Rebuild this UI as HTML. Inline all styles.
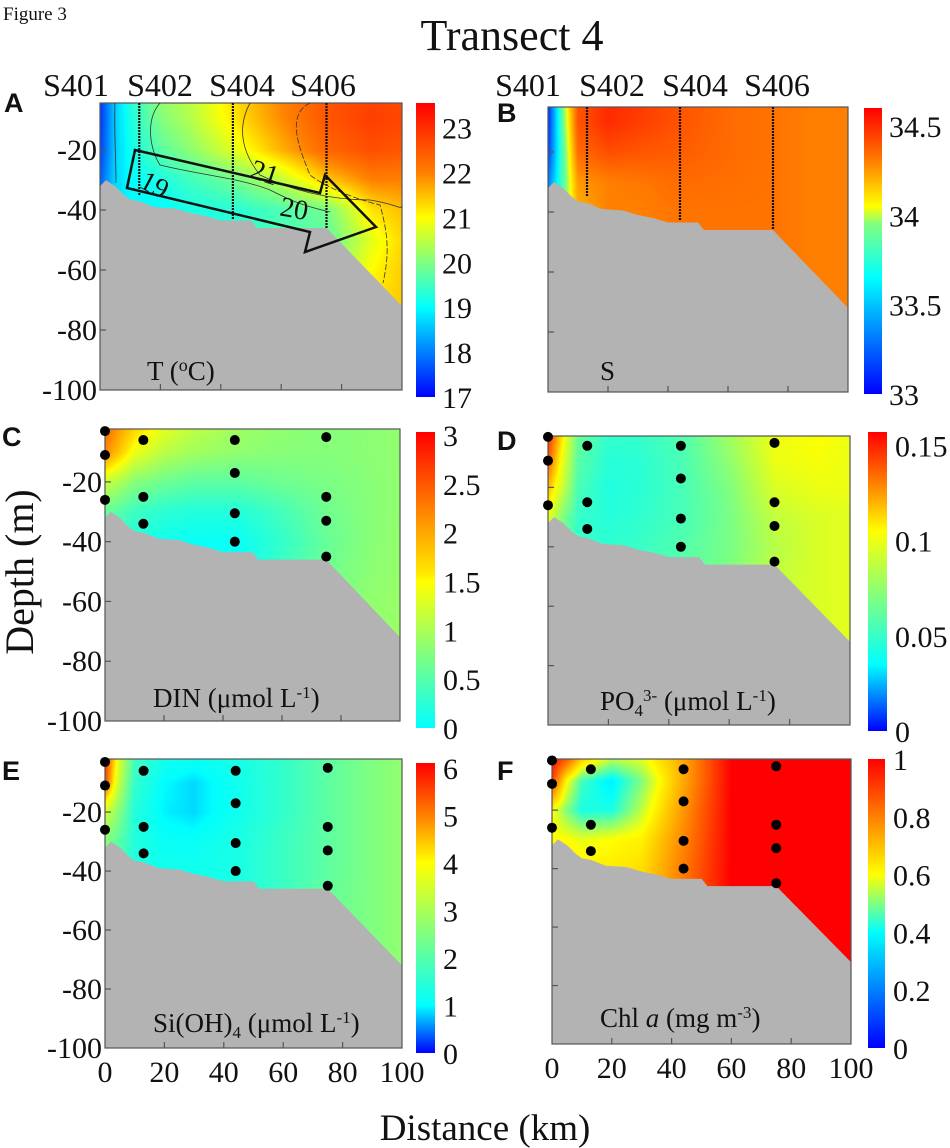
<!DOCTYPE html>
<html><head><meta charset="utf-8">
<style>
html,body{margin:0;padding:0;background:#fff;}
#wrap{position:relative;width:950px;height:1148px;overflow:hidden;font-family:"Liberation Serif",serif;}
canvas{position:absolute;}
svg{position:absolute;left:0;top:0;}
</style></head>
<body>
<div id="wrap">
<svg id="svg" width="950" height="1148"></svg>
</div>
<script>
// ---------- data ----------
const gridDist=[0,5,10,20,30,45,60,75,90,100];
const gridDepth=[0,10,20,30,40,50,60,70,80];
const tempValues=[
[17.4,17.4,17.5,17.7,17.8,17.8,17.8,17.8,17.8],
[18.6,18.6,18.6,18.7,18.8,18.8,18.8,18.8,18.8],
[19.3,19.2,19.1,19.0,19.0,19.0,19.0,19.0,19.0],
[20.2,20.0,19.7,19.2,19.0,19.0,19.0,19.0,19.0],
[20.5,20.4,20.1,19.5,19.2,19.2,19.2,19.2,19.2],
[21.3,21.2,20.8,19.9,19.3,19.3,19.3,19.3,19.3],
[22.0,21.9,21.6,20.5,19.6,19.6,19.6,19.6,19.6],
[22.5,22.5,22.3,21.4,19.9,19.7,20.0,20.4,20.5],
[22.7,22.8,22.6,22.0,21.2,20.8,21.0,21.2,21.2],
[22.6,22.7,22.5,22.0,21.5,21.3,21.4,21.4,21.4]];
const salValues=[
[33.1,33.1,33.15,33.3,33.4,33.4,33.4,33.4,33.4],
[33.95,33.9,33.85,33.85,33.9,33.9,33.9,33.9,33.9],
[34.4,34.4,34.35,34.25,34.2,34.2,34.2,34.2,34.2],
[34.5,34.5,34.42,34.3,34.3,34.3,34.3,34.3,34.3],
[34.47,34.46,34.4,34.32,34.3,34.3,34.3,34.3,34.3],
[34.4,34.4,34.38,34.35,34.33,34.33,34.33,34.33,34.33],
[34.35,34.35,34.35,34.34,34.33,34.33,34.33,34.33,34.33],
[34.33,34.33,34.33,34.33,34.33,34.33,34.33,34.33,34.33],
[34.3,34.3,34.3,34.3,34.3,34.3,34.3,34.3,34.3],
[34.3,34.3,34.3,34.3,34.3,34.3,34.3,34.3,34.3]];
const dinValues=[
[2.5,2.2,1.2,0.6,0.4,0.4,0.4,0.4,0.4],
[2.1,1.8,1.0,0.5,0.3,0.3,0.3,0.3,0.3],
[1.8,1.4,0.8,0.35,0.2,0.2,0.2,0.2,0.2],
[1.4,1.1,0.65,0.25,0.1,0.1,0.1,0.1,0.1],
[1.15,0.95,0.55,0.2,0.05,0.05,0.05,0.05,0.05],
[0.95,0.85,0.55,0.2,0.05,0.05,0.05,0.05,0.05],
[0.85,0.8,0.65,0.4,0.3,0.35,0.4,0.4,0.4],
[0.8,0.78,0.72,0.65,0.6,0.65,0.7,0.75,0.75],
[0.82,0.82,0.8,0.8,0.8,0.82,0.85,0.85,0.85],
[0.85,0.85,0.85,0.85,0.86,0.88,0.9,0.9,0.9]];
const po4Values=[
[0.15,0.14,0.12,0.1,0.09,0.09,0.09,0.09,0.09],
[0.11,0.1,0.09,0.07,0.06,0.06,0.06,0.06,0.06],
[0.065,0.06,0.055,0.05,0.05,0.05,0.05,0.05,0.05],
[0.05,0.046,0.044,0.045,0.048,0.048,0.048,0.048,0.048],
[0.05,0.047,0.046,0.048,0.05,0.05,0.05,0.05,0.05],
[0.058,0.056,0.055,0.055,0.058,0.058,0.058,0.058,0.058],
[0.08,0.075,0.07,0.068,0.068,0.07,0.07,0.07,0.07],
[0.1,0.1,0.095,0.088,0.085,0.088,0.09,0.09,0.09],
[0.105,0.103,0.1,0.095,0.095,0.095,0.095,0.095,0.095],
[0.1,0.1,0.1,0.097,0.097,0.097,0.097,0.097,0.097]];
const siValues=[
[5.8,5.5,3.5,2.6,2.4,2.4,2.4,2.4,2.4],
[3.6,3.2,2.5,2.0,1.8,1.8,1.8,1.8,1.8],
[1.8,1.6,1.4,1.4,1.4,1.4,1.4,1.4,1.4],
[1.3,1.0,0.95,1.1,1.2,1.2,1.2,1.2,1.2],
[1.2,0.85,0.85,1.1,1.2,1.2,1.2,1.2,1.2],
[1.3,1.2,1.2,1.3,1.3,1.3,1.3,1.3,1.3],
[1.6,1.6,1.6,1.7,1.7,1.7,1.7,1.7,1.7],
[2.1,2.1,2.1,2.1,2.1,2.2,2.2,2.2,2.2],
[2.5,2.5,2.5,2.5,2.5,2.5,2.5,2.5,2.5],
[2.7,2.7,2.7,2.7,2.7,2.7,2.7,2.7,2.7]];
const chlValues=[
[1,0.9,0.6,0.6,0.65,0.65,0.65,0.65,0.65],
[0.95,0.6,0.5,0.6,0.65,0.65,0.65,0.65,0.65],
[0.75,0.45,0.42,0.58,0.62,0.62,0.62,0.62,0.62],
[0.6,0.38,0.42,0.6,0.63,0.63,0.63,0.63,0.63],
[0.6,0.5,0.55,0.62,0.65,0.65,0.65,0.65,0.65],
[0.75,0.75,0.78,0.8,0.82,0.82,0.82,0.82,0.82],
[1,1,1,1,1,1,1,1,1],
[1,1,1,1,1,1,1,1,1],
[1,1,1,1,1,1,1,1,1],
[1,1,1,1,1,1,1,1,1]];
const bathyDist=[0,2,5,8,10,13,18,25,30,35,40,50,52,75,100];
const bathyDepth=[-32,-30,-32,-35,-36.5,-37,-39,-39.5,-41,-42,-43.5,-43.5,-46,-46,-72];
const stationNames=["S401","S402","S404","S406"];
const stationDist=[0,13,44,75];
const stationLineBottom=[0,-35,-43,-46];
const dotDist=[0,0,0,13,13,13,44,44,44,44,75,75,75,75];
const dotDepth=[-3,-11,-26,-6,-25,-34,-6,-17,-30.5,-40,-5,-25,-33,-45];
const xTickLabels=[0,20,40,60,80,100];
const yTickLabels=[-20,-40,-60,-80,-100];
const cbTicksT=[17,18,19,20,21,22,23];
const cbTicksS=[33,33.5,34,34.5];
const cbTicksDIN=[0,0.5,1,1.5,2,2.5,3];
const cbTicksPO4=[0,0.05,0.1,0.15];
const cbTicksSi=[0,1,2,3,4,5,6];
const cbTicksChl=[0,0.2,0.4,0.6,0.8,1];
// colour-scale anchor values (colours listed separately in cmColors)
const cmT=[17,19,20,21,22,23.55];
const cmS=[33,33.65,33.95,34.05,34.3,34.6];
const cmDIN=[0,0.75,1.5,1.6,2.25,3.03];
const cmPO4=[0,0.035,0.07,0.105,0.13,0.157];
const cmSi=[0,1,2.5,4,5,6.1];
const cmChl=[0,0.4,0.5,0.6,0.8,1.0];
const cmColors=[[0,0,255],[0,255,255],[128,255,128],[255,255,0],[255,128,0],[255,0,0]];
const cmColorsDIN=[[0,255,255],[128,255,128],[255,255,0],[255,230,0],[255,128,0],[255,0,0]];

// ---------- layout ----------
const panels=[
 {id:'a',letter:'A',lx:4,ly:112,x0:100,x1:402,yT:103,yB:390,zTop:-4.3,vals:tempValues,cm:cmT,cols:cmColors,cb:[416,435,103,397],ticks:cbTicksT,cbx:442,label:'T (<tspan font-size="18" dy="-9">o</tspan><tspan dy="9">C)</tspan>',labx:147,laby:380,yLabels:true,xLabels:false,stations:true,dots:false,stx:[76,160,242,323]},
 {id:'b',letter:'B',lx:497,ly:122,x0:548,x1:848,yT:107,yB:392,zTop:-5,vals:salValues,cm:cmS,cols:cmColors,cb:[864,882,108,394],ticks:cbTicksS,cbx:889,label:'S',labx:600,laby:380,yLabels:false,xLabels:false,stations:true,dots:false,stx:[528,612,695,777]},
 {id:'c',letter:'C',lx:2,ly:446,x0:105,x1:400,yT:429,yB:721,zTop:-2.3,vals:dinValues,cm:cmDIN,cols:cmColorsDIN,cb:[416,435,432,728],ticks:cbTicksDIN,cbx:443,label:'DIN (μmol L<tspan font-size="17" dy="-9">-1</tspan><tspan dy="9">)</tspan>',labx:153,laby:707,yLabels:true,xLabels:false,stations:false,dots:true},
 {id:'d',letter:'D',lx:497,ly:450,x0:548,x1:850,yT:436,yB:725,zTop:-2.7,vals:po4Values,cm:cmPO4,cols:cmColors,cb:[868,887,432,731],ticks:cbTicksPO4,cbx:895,label:'PO<tspan font-size="17" dy="6">4</tspan><tspan font-size="17" dy="-15">3-</tspan><tspan dy="9"> (μmol L</tspan><tspan font-size="17" dy="-9">-1</tspan><tspan dy="9">)</tspan>',labx:600,laby:710,yLabels:false,xLabels:false,stations:false,dots:true},
 {id:'e',letter:'E',lx:2,ly:780,x0:105,x1:402,yT:759,yB:1048,zTop:-2,vals:siValues,cm:cmSi,cols:cmColors,cb:[416,435,763,1053],ticks:cbTicksSi,cbx:443,label:'Si(OH)<tspan font-size="17" dy="6">4</tspan><tspan dy="-6"> (μmol L</tspan><tspan font-size="17" dy="-9">-1</tspan><tspan dy="9">)</tspan>',labx:153,laby:1032,yLabels:true,xLabels:true,stations:false,dots:true},
 {id:'f',letter:'F',lx:497,ly:780,x0:552,x1:851,yT:759,yB:1044,zTop:-2.5,vals:chlValues,cm:cmChl,cols:cmColors,cb:[868,885,759,1048],ticks:cbTicksChl,cbx:893,label:'Chl <tspan font-style="italic">a</tspan> (mg m<tspan font-size="17" dy="-9">-3</tspan><tspan dy="9">)</tspan>',labx:600,laby:1027,yLabels:false,xLabels:true,stations:false,dots:true}
];

function clamp(v){return Math.max(0,Math.min(1,v));}
function colorFor(p,v){
  const s=p.cm,c=p.cols;
  if(v<=s[0])return c[0];
  for(let i=0;i<s.length-1;i++){
    if(v<=s[i+1]){const t=(v-s[i])/(s[i+1]-s[i]);
      return [c[i][0]+(c[i+1][0]-c[i][0])*t,c[i][1]+(c[i+1][1]-c[i][1])*t,c[i][2]+(c[i+1][2]-c[i][2])*t];}
  }
  return c[c.length-1];
}
function interp(vals,d,dep){
  let i=0;while(i<gridDist.length-2&&d>gridDist[i+1])i++;
  let j=0;while(j<gridDepth.length-2&&dep>gridDepth[j+1])j++;
  const tx=clamp((d-gridDist[i])/(gridDist[i+1]-gridDist[i]));
  const ty=clamp((dep-gridDepth[j])/(gridDepth[j+1]-gridDepth[j]));
  const a=vals[i][j],b=vals[i+1][j],c=vals[i][j+1],e=vals[i+1][j+1];
  return (a*(1-tx)+b*tx)*(1-ty)+(c*(1-tx)+e*tx)*ty;
}
const NS='http://www.w3.org/2000/svg';
const svg=document.getElementById('svg');
const wrap=document.getElementById('wrap');
function mk(tag,attrs,parent){
  const el=document.createElementNS(NS,tag);
  for(const k in attrs)el.setAttribute(k,attrs[k]);
  (parent||svg).appendChild(el);
  return el;
}
let gid=0;
panels.forEach(p=>{
  const W=p.x1-p.x0,H=p.yB-p.yT;
  const xs=d=>p.x0+d/100*W;
  const ys=z=>p.yT+(z-p.zTop)/(-100-p.zTop)*H;
  const cv=document.createElement('canvas');
  cv.width=W;cv.height=H;cv.style.left=p.x0+'px';cv.style.top=p.yT+'px';
  
  
  wrap.insertBefore(cv,svg);
  const ctx=cv.getContext('2d');const img=ctx.createImageData(W,H);
  for(let py=0;py<H;py++){const z=p.zTop+(py+0.5)/H*(-100-p.zTop);
    for(let px=0;px<W;px++){const d=(px+0.5)/W*100;const c=colorFor(p,interp(p.vals,d,-z));
      const k=(py*W+px)*4;img.data[k]=c[0];img.data[k+1]=c[1];img.data[k+2]=c[2];img.data[k+3]=255;}}
  ctx.putImageData(img,0,0);
  const g=mk('g',{});
  
  
  let pts=bathyDist.map((d,i)=>xs(d)+','+ys(bathyDepth[i])).join(' ');
  pts+=' '+xs(100)+','+ys(-100)+' '+xs(0)+','+ys(-100);
  const bp=mk('polygon',{points:pts,fill:'#b3b3b3'},g);
  
  
  const fr=mk('rect',{x:p.x0,y:p.yT,width:W,height:H,fill:'none',stroke:'#555','stroke-width':1.2},g);
  
  
  xTickLabels.slice(1,5).forEach(v=>{mk('line',{x1:xs(v),x2:xs(v),y1:p.yB,y2:p.yB-6,stroke:'#555','stroke-width':1.2},g);});
  yTickLabels.slice(0,4).forEach(v=>{mk('line',{x1:p.x0,x2:p.x0+6,y1:ys(v),y2:ys(v),stroke:'#555','stroke-width':1.2},g);});
  if(p.yLabels){yTickLabels.forEach(v=>{const t=mk('text',{x:p.x0-3,y:ys(v)+10,'text-anchor':'end','font-size':30,fill:'#111'},g);t.textContent=v;
    
    });}
  if(p.xLabels){xTickLabels.forEach(v=>{const t=mk('text',{x:xs(v),y:p.yB+34,'text-anchor':'middle','font-size':30,fill:'#111'},g);t.textContent=v;
    
    });}
  if(p.stations){
    stationDist.forEach((d,i)=>{
      const t=mk('text',{x:p.stx[i],y:96,'text-anchor':'middle','font-size':32,fill:'#111'},g);t.textContent=stationNames[i];
      
      
      if(i>0){const l=mk('line',{x1:xs(d),x2:xs(d),y1:p.yT,y2:ys(stationLineBottom[i]),stroke:'#111','stroke-width':2.2,'stroke-dasharray':'2 1'},g);
        
        }
    });
  }
  if(p.dots){
    dotDist.forEach((d,i)=>{const c=mk('circle',{cx:xs(d),cy:ys(dotDepth[i]),r:5,fill:'#000'},g);
      
      });
  }
  const lt=mk('text',{x:p.labx,y:p.laby,'font-size':27,fill:'#111'},g);lt.innerHTML=p.label;
  
  
  const L=mk('text',{x:p.lx,y:p.ly,'font-size':27,'font-weight':'bold','font-family':'Liberation Sans, sans-serif',fill:'#111'},g);L.textContent=p.letter;
  
  
  const gradId='grad'+(gid++);
  const defs=mk('defs',{},g);
  const lg=mk('linearGradient',{id:gradId,x1:0,y1:1,x2:0,y2:0},defs);
  const vmin=p.cm[0],vmax=p.cm[p.cm.length-1];
  p.cm.forEach((v,i)=>{const c=p.cols[i];
    mk('stop',{offset:(v-vmin)/(vmax-vmin),'stop-color':'rgb('+c[0]+','+c[1]+','+c[2]+')'},lg);});
  const [cx0,cx1,cy0,cy1]=p.cb;
  const cr=mk('rect',{x:cx0,y:cy0,width:cx1-cx0,height:cy1-cy0,fill:'url(#'+gradId+')'},g);
  
  
  const cys=v=>cy1-(v-vmin)/(vmax-vmin)*(cy1-cy0);
  p.ticks.forEach(v=>{const t=mk('text',{x:p.cbx,y:cys(v)+11,'font-size':30,fill:'#111'},g);t.textContent=v;
    
    });
});
const ann=mk('g',{});


mk('path',{d:'M115,103 C114,130 116,160 116,183',fill:'none',stroke:'#333','stroke-width':0.8},ann);
mk('path',{d:'M160,103 C145,120 150,150 160,165 C200,175 240,178 270,190 C290,200 300,205 330,212',fill:'none',stroke:'#333','stroke-width':0.8},ann);
mk('path',{d:'M310,103 C285,115 300,150 310,175 C330,190 360,200 380,205 C390,240 388,260 383,283',fill:'none',stroke:'#333','stroke-width':0.8,'stroke-dasharray':'6 2'},ann);
mk('path',{d:'M250,103 C238,125 240,150 260,175 C290,190 330,200 370,200 C400,205 400,210 402,206',fill:'none',stroke:'#333','stroke-width':0.8},ann);
mk('polygon',{points:'135,150 320,193 325,175 376,227 305,252 310,232 127,188',fill:'none',stroke:'#111','stroke-width':2.5},ann);
const l19=mk('text',{x:140,y:192,'font-size':28,fill:'#111',transform:'rotate(28 150 185)'},ann);l19.textContent='19';
const l21=mk('text',{x:250,y:182,'font-size':28,fill:'#111',transform:'rotate(18 265 175)'},ann);l21.textContent='21';
const l20=mk('text',{x:280,y:218,'font-size':28,fill:'#111',transform:'rotate(10 295 210)'},ann);l20.textContent='20';
const f3=mk('text',{x:3,y:20,'font-size':19,fill:'#111'});f3.textContent='Figure 3';


const tt=mk('text',{x:512,y:50,'text-anchor':'middle','font-size':44,fill:'#111'});tt.textContent='Transect 4';


const xt=mk('text',{x:485,y:1140,'text-anchor':'middle','font-size':37,fill:'#111'});xt.textContent='Distance (km)';


const yt=mk('text',{x:0,y:0,'text-anchor':'middle','font-size':40,fill:'#111',transform:'translate(33,572) rotate(-90)'});yt.textContent='Depth (m)';


</script>
</body></html>
